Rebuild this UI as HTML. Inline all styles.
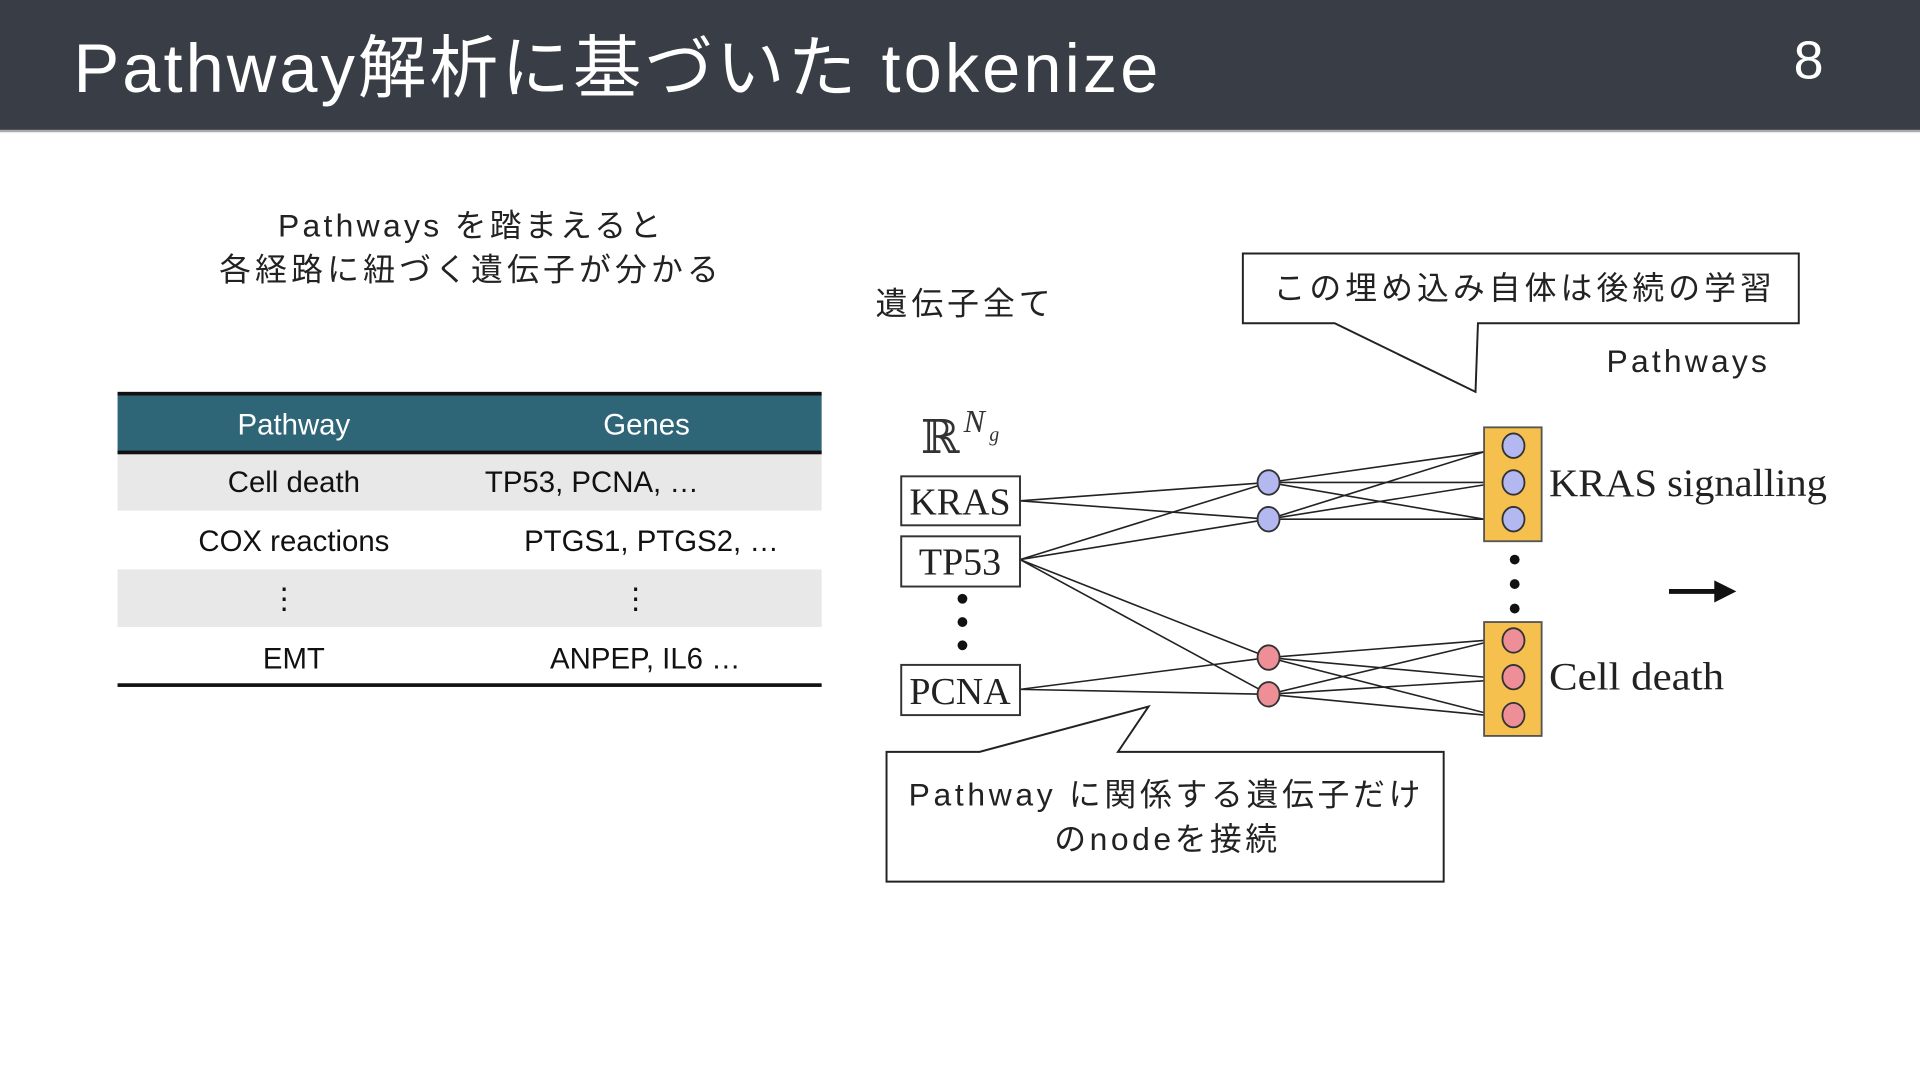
<!DOCTYPE html>
<html><head><meta charset="utf-8"><style>
html,body{margin:0;padding:0;background:#fff;}
svg{display:block;}
.jp{font-family:"Liberation Sans","Noto Sans CJK JP",sans-serif;}
.sf{font-family:"Liberation Serif","DejaVu Serif",serif;}
</style></head><body>
<svg width="1920" height="1080" viewBox="0 0 1568 882" preserveAspectRatio="none" xmlns="http://www.w3.org/2000/svg">
<rect x="0" y="0" width="1568" height="882" fill="#fff"/>
<rect x="0" y="0" width="1568" height="107" fill="#393e46"/>
<rect x="0" y="106" width="1568" height="2" fill="#aaa"/>
<text x="60" y="75" class="jp" font-size="56" fill="#fff" textLength="886" lengthAdjust="spacing">Pathway解析に基づいた tokenize</text>
<text x="1477" y="64" class="jp" font-size="44" fill="#fff" text-anchor="middle">8</text>

<g class="jp" font-size="26" fill="#222">
<text x="227" y="193" textLength="313" lengthAdjust="spacing">Pathways を踏まえると</text>
<text x="179" y="229" textLength="408" lengthAdjust="spacing">各経路に紐づく遺伝子が分かる</text>
</g>

<!-- table -->
<rect x="96" y="322" width="575" height="48" fill="#2e6678"/>
<rect x="96" y="370" width="575" height="47" fill="#e8e8e8"/>
<rect x="96" y="465" width="575" height="47" fill="#e8e8e8"/>
<rect x="96" y="320" width="575" height="3" fill="#111"/>
<rect x="96" y="368" width="575" height="3" fill="#111"/>
<rect x="96" y="558" width="575" height="3" fill="#111"/>
<g class="jp" font-size="24" text-anchor="middle">
<text x="240" y="355" fill="#fff">Pathway</text>
<text x="528" y="355" fill="#fff">Genes</text>
<text x="240" y="402" fill="#111">Cell death</text>
<text x="240" y="450" fill="#111">COX reactions</text>
<text x="232" y="497" fill="#111">⋮</text>
<text x="240" y="546" fill="#111">EMT</text>
<text x="527" y="546" fill="#111">ANPEP, IL6 …</text>
<text x="519" y="497" fill="#111">⋮</text>
</g>
<g class="jp" font-size="24" fill="#111">
<text x="396" y="402">TP53, PCNA, …</text>
<text x="428" y="450">PTGS1, PTGS2, …</text>
</g>

<text x="715" y="257" class="jp" font-size="26" fill="#222" textLength="143" lengthAdjust="spacing">遺伝子全て</text>
<text x="1312" y="304" class="jp" font-size="26" fill="#222" textLength="131" lengthAdjust="spacing">Pathways</text>

<!-- top callout -->
<path d="M1015,207 H1469 V264 H1207 L1205,320 L1090,264 H1015 Z" fill="#fff" stroke="#222" stroke-width="1.6"/>
<text x="1040" y="244" class="jp" font-size="26" fill="#222" textLength="407" lengthAdjust="spacing">この埋め込み自体は後続の学習</text>

<!-- bottom callout -->
<path d="M724,614 H800 L938,577 L913,614 H1179 V720 H724 Z" fill="#fff" stroke="#222" stroke-width="1.6"/>
<g class="jp" font-size="26" fill="#222">
<text x="742" y="658" textLength="418" lengthAdjust="spacing">Pathway に関係する遺伝子だけ</text>
<text x="861" y="694" textLength="182" lengthAdjust="spacing">のnodeを接続</text>
</g>

<!-- R^Ng -->
<text x="752" y="370" class="sf" font-size="38" fill="#333">ℝ</text>
<text x="787" y="353" class="sf" font-size="26" font-style="italic" fill="#333">N</text>
<text x="808" y="360" class="sf" font-size="16" font-style="italic" fill="#333">g</text>

<!-- lines -->
<g stroke="#222" stroke-width="1.3" fill="none">
<line x1="833" y1="409" x2="1036" y2="394"/>
<line x1="833" y1="409" x2="1036" y2="424"/>
<line x1="833" y1="457" x2="1036" y2="394"/>
<line x1="833" y1="457" x2="1036" y2="424"/>
<line x1="833" y1="457" x2="1036" y2="537"/>
<line x1="833" y1="457" x2="1036" y2="567"/>
<line x1="833" y1="563" x2="1036" y2="537"/>
<line x1="833" y1="563" x2="1036" y2="567"/>
<line x1="1036" y1="394" x2="1212" y2="369"/>
<line x1="1036" y1="394" x2="1212" y2="394"/>
<line x1="1036" y1="394" x2="1212" y2="424"/>
<line x1="1036" y1="424" x2="1212" y2="369"/>
<line x1="1036" y1="424" x2="1212" y2="396"/>
<line x1="1036" y1="424" x2="1212" y2="424"/>
<line x1="1036" y1="537" x2="1212" y2="523"/>
<line x1="1036" y1="537" x2="1212" y2="553"/>
<line x1="1036" y1="537" x2="1212" y2="582"/>
<line x1="1036" y1="567" x2="1212" y2="525"/>
<line x1="1036" y1="567" x2="1212" y2="556"/>
<line x1="1036" y1="567" x2="1212" y2="584"/>
</g>

<!-- gene boxes -->
<g stroke="#333" stroke-width="1.6" fill="#fff">
<rect x="736" y="389" width="97" height="40"/>
<rect x="736" y="438" width="97" height="41"/>
<rect x="736" y="543" width="97" height="41"/>
</g>
<g class="sf" font-size="31" fill="#222" text-anchor="middle">
<text x="784" y="420">KRAS</text>
<text x="784" y="469">TP53</text>
<text x="784" y="575">PCNA</text>
</g>
<g fill="#111">
<circle cx="786" cy="489" r="4"/><circle cx="786" cy="508" r="4"/><circle cx="786" cy="527" r="4"/>
<circle cx="1237" cy="457" r="4"/><circle cx="1237" cy="477" r="4"/><circle cx="1237" cy="497" r="4"/>
</g>

<!-- middle nodes -->
<g stroke="#333" stroke-width="1.5">
<ellipse cx="1036" cy="394" rx="9" ry="10" fill="#b3b8f0"/>
<ellipse cx="1036" cy="424" rx="9" ry="10" fill="#b3b8f0"/>
<ellipse cx="1036" cy="537" rx="9" ry="10" fill="#ee8f98"/>
<ellipse cx="1036" cy="567" rx="9" ry="10" fill="#ee8f98"/>
</g>

<!-- pathway boxes -->
<g stroke="#555" stroke-width="1.5" fill="#f6c04e">
<rect x="1212" y="349" width="47" height="93"/>
<rect x="1212" y="508" width="47" height="93"/>
</g>
<g stroke="#333" stroke-width="1.5">
<ellipse cx="1236" cy="364" rx="9" ry="10" fill="#b3b8f0"/>
<ellipse cx="1236" cy="394" rx="9" ry="10" fill="#b3b8f0"/>
<ellipse cx="1236" cy="424" rx="9" ry="10" fill="#b3b8f0"/>
<ellipse cx="1236" cy="523" rx="9" ry="10" fill="#ee8f98"/>
<ellipse cx="1236" cy="553" rx="9" ry="10" fill="#ee8f98"/>
<ellipse cx="1236" cy="584" rx="9" ry="10" fill="#ee8f98"/>
</g>
<g class="sf" font-size="32" fill="#222">
<text x="1265" y="405" textLength="227" lengthAdjust="spacingAndGlyphs">KRAS signalling</text>
<text x="1265" y="563" textLength="143" lengthAdjust="spacingAndGlyphs">Cell death</text>
</g>

<!-- arrow -->
<line x1="1363" y1="483" x2="1404" y2="483" stroke="#111" stroke-width="4"/>
<path d="M1400,474 L1418,483 L1400,492 Z" fill="#111"/>
</svg>
</body></html>
